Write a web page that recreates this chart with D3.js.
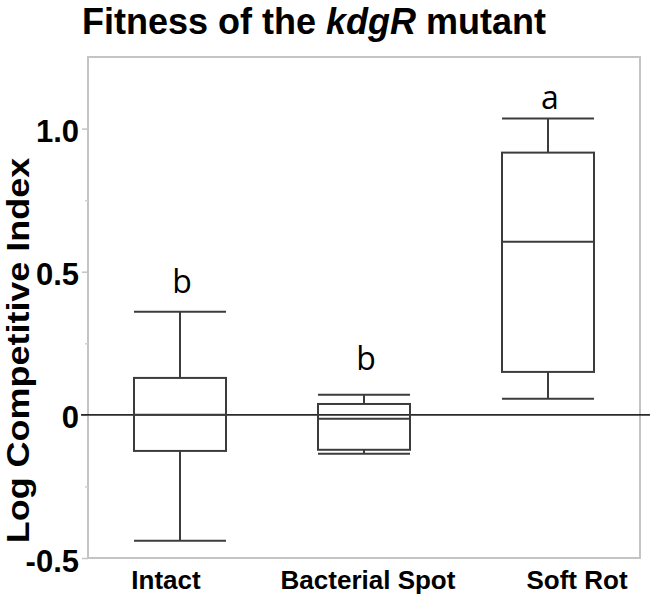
<!DOCTYPE html>
<html>
<head>
<meta charset="utf-8">
<script src="https://cdn.jsdelivr.net/npm/d3@7"></script>
<style>
  body { margin: 0; background: #fff; }
  svg { display: block; }
</style>
</head>
<body>
<script>
// values (log competitive index)
const categories = ["Intact", "Bacterial Spot", "Soft Rot"];
const whiskerLow = [-0.44, -0.136, 0.056];
const q1 = [-0.126, -0.122, 0.15];
const median = [0, -0.014, 0.605];
const q3 = [0.129, 0.038, 0.916];
const whiskerHigh = [0.36, 0.07, 1.035];
const groupLetters = ["b", "b", "a"];
const letterY = [0.427, 0.157, 1.07];
const yTicks = [-0.5, 0, 0.5, 1.0];
const yMinorTicks = [-0.25, 0.25, 0.75];

const W = 650, H = 596;
const frame = {left: 88, right: 640, top: 57, bottom: 558};
const boxW = 92;

const svg = d3.select("body").append("svg")
  .attr("width", W)
  .attr("height", H);

const x = d3.scalePoint().domain(categories).range([frame.left, frame.right]).padding(0.5);
const y = d3.scaleLinear().domain([-0.5, 1.25]).range([frame.bottom, frame.top]);

// frame
svg.append("rect")
  .attr("x", frame.left).attr("y", frame.top)
  .attr("width", frame.right - frame.left).attr("height", frame.bottom - frame.top)
  .attr("fill", "none").attr("stroke", "#c4c4c4").attr("stroke-width", 2);

// y axis (plain hyphen for negatives, like the original)
const yAxis = d3.axisLeft(y)
  .tickValues(yTicks)
  .tickSize(6)
  .tickPadding(3)
  .tickFormat(d => d === 0 ? "0" : d3.format(".1f")(d).replace("\u2212", "-"));
const ax = svg.append("g")
  .attr("transform", "translate(" + frame.left + ",0)")
  .call(yAxis);
ax.select(".domain").remove();
ax.selectAll(".tick line").attr("stroke", "#c4c4c4").attr("stroke-width", 1.5);
ax.selectAll(".tick text")
  .attr("fill", "#000")
  .attr("dy", "0.42em")
  .style("font-family", "'Liberation Sans', Arial, sans-serif")
  .style("font-weight", "bold")
  .style("font-size", "31px");

svg.append("g")
  .attr("transform", "translate(" + frame.left + ",0)")
  .call(d3.axisLeft(y).tickValues(yMinorTicks).tickSize(3).tickFormat(""))
  .call(g => g.select(".domain").remove())
  .selectAll(".tick line").attr("stroke", "#d0d0d0").attr("stroke-width", 1.5);

// zero reference line
svg.append("line")
  .attr("x1", frame.left - 7).attr("x2", W)
  .attr("y1", y(0)).attr("y2", y(0))
  .attr("stroke", "#2a2a2a").attr("stroke-width", 1.6);

// box plots
const boxes = svg.append("g")
  .attr("fill", "none")
  .attr("stroke", "#3c3c3c")
  .attr("stroke-width", 2);

categories.forEach(function (c, i) {
  const cx = x(c);
  const g = boxes.append("g");
  // whiskers
  g.append("line").attr("x1", cx).attr("x2", cx).attr("y1", y(whiskerHigh[i])).attr("y2", y(q3[i]));
  g.append("line").attr("x1", cx).attr("x2", cx).attr("y1", y(q1[i])).attr("y2", y(whiskerLow[i]));
  // caps
  g.append("line").attr("x1", cx - boxW / 2).attr("x2", cx + boxW / 2).attr("y1", y(whiskerHigh[i])).attr("y2", y(whiskerHigh[i]));
  g.append("line").attr("x1", cx - boxW / 2).attr("x2", cx + boxW / 2).attr("y1", y(whiskerLow[i])).attr("y2", y(whiskerLow[i]));
  // box
  g.append("rect")
    .attr("x", cx - boxW / 2).attr("y", y(q3[i]))
    .attr("width", boxW).attr("height", y(q1[i]) - y(q3[i]));
  // median
  g.append("line").attr("x1", cx - boxW / 2).attr("x2", cx + boxW / 2).attr("y1", y(median[i])).attr("y2", y(median[i]));
});

// significance letters
svg.append("g")
  .selectAll("text")
  .data(categories)
  .join("text")
  .attr("x", d => x(d) + 2)
  .attr("y", (d, i) => y(letterY[i]))
  .attr("text-anchor", "middle")
  .style("font-family", "'Open Sans', sans-serif")
  .style("font-size", "32px")
  .text((d, i) => groupLetters[i]);

// x category labels
const labelShift = [-14, 4, 29];
svg.append("g")
  .selectAll("text")
  .data(categories)
  .join("text")
  .attr("x", (d, i) => x(d) + labelShift[i])
  .attr("y", 589)
  .attr("text-anchor", "middle")
  .style("font-family", "'Liberation Sans', Arial, sans-serif")
  .style("font-weight", "bold")
  .style("font-size", "26px")
  .text(d => d);

// y axis title (stretched along its length, as in the source figure)
svg.append("text")
  .attr("transform", "translate(29," + ((frame.top + frame.bottom) / 2 + 43) + ") rotate(-90) scale(1.16,1)")
  .attr("text-anchor", "middle")
  .style("font-family", "'Liberation Sans', Arial, sans-serif")
  .style("font-weight", "bold")
  .style("font-size", "31px")
  .text("Log Competitive Index");

// chart title
const title = svg.append("text")
  .attr("x", 314)
  .attr("y", 34)
  .attr("text-anchor", "middle")
  .style("font-family", "'Liberation Sans', Arial, sans-serif")
  .style("font-weight", "bold")
  .style("font-size", "36px");
title.append("tspan").text("Fitness of the ");
title.append("tspan").style("font-style", "italic").text("kdgR");
title.append("tspan").text(" mutant");
</script>
</body>
</html>
